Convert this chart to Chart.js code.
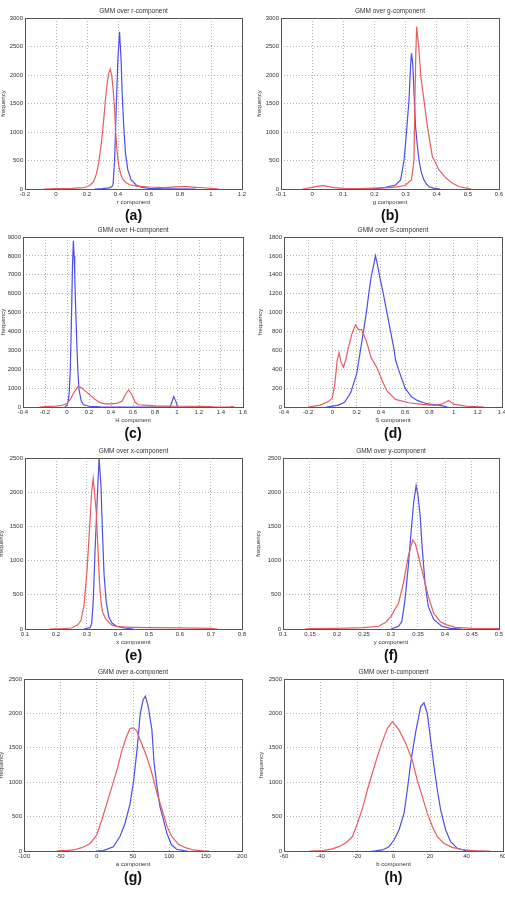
<!DOCTYPE html>
<html>
<head>
<meta charset="utf-8">
<title>GMM over colour components</title>
<script src="https://cdn.jsdelivr.net/npm/chart.js@4.4.1/dist/chart.umd.min.js"></script>
<style>
  body { margin: 0; background: #fff; }
  #figure { position: relative; width: 505px; height: 920px; overflow: hidden; background: #fff; }
  #figure canvas { position: absolute; }
</style>
</head>
<body>
<div id="figure"></div>
<script>
// tick labels
const ticks3000 = [0, 500, 1000, 1500, 2000, 2500, 3000];
const ticks9000 = [0, 1000, 2000, 3000, 4000, 5000, 6000, 7000, 8000, 9000];
const ticks1800 = [0, 200, 400, 600, 800, 1000, 1200, 1400, 1600, 1800];
const ticks2500 = [0, 500, 1000, 1500, 2000, 2500];
const rTicks = [-0.2, 0, 0.2, 0.4, 0.6, 0.8, 1, 1.2];
const gTicks = [-0.1, 0, 0.1, 0.2, 0.3, 0.4, 0.5, 0.6];
const hTicks = [-0.4, -0.2, 0, 0.2, 0.4, 0.6, 0.8, 1, 1.2, 1.4, 1.6];
const sTicks = [-0.4, -0.2, 0, 0.2, 0.4, 0.6, 0.8, 1, 1.2, 1.4];
const xTicks = [0.1, 0.2, 0.3, 0.4, 0.5, 0.6, 0.7, 0.8];
const yTicks = [0.1, 0.15, 0.2, 0.25, 0.3, 0.35, 0.4, 0.45, 0.5];
const aTicks = [-100, -50, 0, 50, 100, 150, 200];
const bTicks = [-60, -40, -20, 0, 20, 40, 60];

// curves, [component value, frequency]
const rRed = [[-0.08,0],[0,8],[0.1,10],[0.18,25],[0.2,40],[0.22,70],[0.24,120],[0.25,180],[0.26,260],[0.27,380],[0.28,550],[0.29,750],[0.3,980],[0.31,1280],[0.32,1600],[0.33,1850],[0.34,2030],[0.35,2100],[0.36,1980],[0.37,1700],[0.378,1400],[0.385,1000],[0.392,720],[0.4,500],[0.41,340],[0.42,240],[0.43,175],[0.45,115],[0.475,75],[0.52,50],[0.6,35],[0.7,25],[0.8,40],[0.85,40],[0.9,30],[0.95,22],[1.0,12],[1.05,0]];
const rBlue = [[0.25,0],[0.3,5],[0.34,20],[0.36,40],[0.368,80],[0.378,500],[0.388,1380],[0.399,2260],[0.41,2760],[0.42,2260],[0.427,1680],[0.437,1100],[0.448,630],[0.463,340],[0.485,160],[0.517,70],[0.55,30],[0.6,12],[0.7,4],[0.9,0]];

const gRed = [[-0.03,0],[0,30],[0.02,50],[0.035,60],[0.05,45],[0.07,25],[0.1,12],[0.15,8],[0.2,15],[0.25,25],[0.28,40],[0.3,70],[0.319,160],[0.327,510],[0.33,1560],[0.333,2400],[0.3356,2850],[0.343,2440],[0.349,1970],[0.359,1560],[0.37,1100],[0.386,570],[0.408,330],[0.43,190],[0.451,100],[0.473,40],[0.5,12],[0.51,0]];
const gBlue = [[0.18,0],[0.21,10],[0.235,30],[0.268,70],[0.284,160],[0.295,500],[0.303,1000],[0.311,1560],[0.316,2150],[0.319,2380],[0.323,2200],[0.327,1700],[0.332,1100],[0.338,750],[0.343,510],[0.35,300],[0.359,160],[0.368,80],[0.376,40],[0.39,15],[0.41,0]];

const hRed = [[-0.25,0],[-0.2,20],[-0.1,50],[-0.05,80],[0,180],[0.03,400],[0.06,750],[0.1,1090],[0.13,1030],[0.16,880],[0.2,680],[0.25,420],[0.3,230],[0.35,170],[0.4,170],[0.45,190],[0.5,300],[0.53,650],[0.56,900],[0.59,650],[0.62,250],[0.65,120],[0.7,100],[0.8,60],[0.9,50],[1.0,40],[1.2,30],[1.3,20],[1.35,0],[1.48,0],[1.5,30],[1.52,0]];
const hBlue = [[-0.02,0],[0,100],[0.01,300],[0.02,700],[0.03,2000],[0.04,4500],[0.05,7500],[0.058,8800],[0.065,8000],[0.07,7000],[0.08,5000],[0.09,3200],[0.1,1800],[0.11,900],[0.13,300],[0.15,120],[0.2,40],[0.3,10],[0.4,0],[0.9,0],[0.94,40],[0.97,550],[0.99,300],[1.0,80],[1.01,0]];

const sRed = [[-0.2,0],[-0.1,20],[-0.03,60],[0,100],[0.02,250],[0.04,500],[0.055,575],[0.07,480],[0.09,420],[0.11,500],[0.13,620],[0.16,770],[0.19,870],[0.215,820],[0.24,820],[0.28,700],[0.32,520],[0.37,410],[0.41,280],[0.45,170],[0.52,80],[0.63,45],[0.74,28],[0.85,18],[0.9,30],[0.96,70],[1.0,30],[1.1,10],[1.25,0]];
const sBlue = [[-0.05,0],[0,10],[0.05,20],[0.1,50],[0.15,150],[0.2,350],[0.25,750],[0.28,1000],[0.3,1200],[0.32,1380],[0.34,1500],[0.355,1600],[0.37,1520],[0.39,1380],[0.42,1200],[0.45,1000],[0.48,800],[0.51,600],[0.52,500],[0.55,380],[0.6,200],[0.65,110],[0.7,70],[0.75,45],[0.8,30],[0.9,15],[0.95,0]];

const xRed = [[0.18,0],[0.22,5],[0.25,15],[0.27,60],[0.28,120],[0.29,330],[0.3,850],[0.31,1600],[0.315,2000],[0.32,2200],[0.325,1950],[0.33,1700],[0.335,1200],[0.34,700],[0.345,400],[0.35,250],[0.36,150],[0.37,100],[0.38,60],[0.4,35],[0.45,25],[0.5,20],[0.6,15],[0.7,8],[0.72,0]];
const xBlue = [[0.29,0],[0.31,20],[0.315,80],[0.32,400],[0.326,1150],[0.333,1900],[0.339,2500],[0.345,2100],[0.35,1400],[0.355,800],[0.362,400],[0.37,180],[0.38,90],[0.395,40],[0.42,15],[0.45,0]];

const yRed = [[0.14,0],[0.15,5],[0.2,10],[0.25,20],[0.277,40],[0.289,90],[0.3,185],[0.314,380],[0.323,670],[0.332,1060],[0.34,1300],[0.345,1250],[0.351,1060],[0.36,770],[0.369,480],[0.379,230],[0.391,110],[0.403,60],[0.419,25],[0.45,10],[0.5,5]];
const yBlue = [[0.3,0],[0.314,40],[0.32,110],[0.326,430],[0.332,915],[0.337,1400],[0.342,1850],[0.3465,2095],[0.35,1950],[0.354,1650],[0.358,1160],[0.363,670],[0.369,330],[0.379,140],[0.394,40],[0.41,10],[0.43,0]];

const aRed = [[-55,0],[-50,5],[-40,8],[-32,15],[-20.5,48],[-9,110],[0,230],[7,450],[14,690],[21,935],[28,1180],[35,1470],[41,1660],[46,1780],[50,1790],[55,1750],[60,1610],[69,1370],[76,1130],[83,840],[90,600],[97,354],[103.5,208],[112.5,97],[122,48],[133,15],[147,3],[155,0]];
const aBlue = [[0,0],[9,5],[23,60],[32,210],[39,400],[46,690],[51,1030],[56,1520],[60,2000],[64,2200],[67,2250],[71,2100],[76,1760],[79,1280],[83,940],[87,650],[92,450],[96.5,260],[103,90],[110,25],[120,5],[125,0]];

const bRed = [[-46,0],[-39,5],[-33.5,30],[-30,63],[-26,120],[-22.5,210],[-19.8,400],[-17,620],[-14.3,890],[-11.6,1130],[-8.9,1370],[-6.1,1590],[-3.4,1780],[-0.6,1880],[3,1760],[6.7,1565],[10.3,1320],[13,1030],[15.8,790],[18.5,550],[21.3,355],[24,210],[27.7,110],[32.2,53],[36.8,25],[43,5],[53,0]];
const bBlue = [[-12,0],[-10,2],[-6,15],[-2.5,63],[0.3,160],[3,305],[5.8,550],[7.6,890],[9.4,1275],[12,1710],[14.9,2100],[16.7,2155],[18.5,2000],[20.4,1610],[22.2,1225],[24,890],[25.8,600],[28.6,305],[31.3,136],[35,39],[39.5,5],[45,0]];

const panels = [
  {id: "a", comp: "r", xt: rTicks, yt: ticks3000, red: rRed, blue: rBlue},
  {id: "b", comp: "g", xt: gTicks, yt: ticks3000, red: gRed, blue: gBlue},
  {id: "c", comp: "H", xt: hTicks, yt: ticks9000, red: hRed, blue: hBlue},
  {id: "d", comp: "S", xt: sTicks, yt: ticks1800, red: sRed, blue: sBlue},
  {id: "e", comp: "x", xt: xTicks, yt: ticks2500, red: xRed, blue: xBlue},
  {id: "f", comp: "y", xt: yTicks, yt: ticks2500, red: yRed, blue: yBlue},
  {id: "g", comp: "a", xt: aTicks, yt: ticks2500, red: aRed, blue: aBlue},
  {id: "h", comp: "b", xt: bTicks, yt: ticks2500, red: bRed, blue: bBlue}
];

// where each panel sits on the page
const boxes = [
  {left: 0,   top: 6,   width: 252, height: 220, yAxis: 25, yTitle: 0,    right: 10},
  {left: 252, top: 6,   width: 253, height: 220, yAxis: 29, yTitle: 3.7,  right: 6},
  {left: 0,   top: 225, width: 252, height: 219, yAxis: 23, yTitle: 0,    right: 9},
  {left: 252, top: 225, width: 253, height: 219, yAxis: 32, yTitle: 4.7,  right: 3},
  {left: 0,   top: 446, width: 252, height: 220, yAxis: 25, yTitle: -2.6, right: 10},
  {left: 252, top: 446, width: 253, height: 220, yAxis: 31, yTitle: 3.1,  right: 6},
  {left: 0,   top: 667, width: 252, height: 221, yAxis: 24, yTitle: -2.6, right: 10},
  {left: 252, top: 667, width: 253, height: 221, yAxis: 32, yTitle: 5.7,  right: 2}
];

const FONT = "'Liberation Sans', Arial, sans-serif";
const RED = "rgb(232, 92, 95)";
const BLUE = "rgb(78, 78, 232)";
const TEXT = "#333";

// MATLAB style box round the axes
const frame = {
  id: "frame",
  afterDatasetsDraw(chart) {
    const ctx = chart.ctx;
    const a = chart.chartArea;
    ctx.save();
    ctx.strokeStyle = "#555";
    ctx.lineWidth = 1;
    ctx.strokeRect(Math.round(a.left) + 0.5, Math.round(a.top) + 0.5,
      Math.round(a.right - a.left), Math.round(a.bottom - a.top));
    ctx.restore();
  }
};

function makeChart(p, box) {
  const canvas = document.createElement("canvas");
  canvas.width = box.width;
  canvas.height = box.height;
  canvas.style.left = box.left + "px";
  canvas.style.top = box.top + "px";
  document.getElementById("figure").appendChild(canvas);

  const toPoints = arr => arr.map(([x, y]) => ({x: x, y: y}));
  const line = (label, pts, color) => ({
    label: label,
    data: toPoints(pts),
    showLine: true,
    borderColor: color,
    borderWidth: 1.2,
    pointRadius: 0,
    tension: 0
  });
  const grid = {color: "#b4b4b4", lineWidth: 1, drawTicks: false};
  const border = {display: false, dash: [1, 2]};

  return new Chart(canvas, {
    type: "scatter",
    data: {
      datasets: [
        line(p.comp + " red", p.red, RED),
        line(p.comp + " blue", p.blue, BLUE)
      ]
    },
    options: {
      responsive: false,
      animation: false,
      devicePixelRatio: 1,
      events: [],
      layout: {padding: {left: 0, right: box.right, top: 0, bottom: 0}},
      plugins: {
        legend: {display: false},
        tooltip: {enabled: false},
        title: {
          display: true,
          fullSize: false,
          text: "GMM over " + p.comp + "-component",
          color: TEXT,
          font: {family: FONT, size: 6.5, weight: "normal"},
          padding: {top: 1.5, bottom: 2.7}
        },
        subtitle: {
          display: true,
          fullSize: false,
          position: "bottom",
          text: "(" + p.id + ")",
          color: "#111",
          font: {family: FONT, size: 14, weight: "bold"},
          padding: {top: 0, bottom: 1.2}
        }
      },
      scales: {
        x: {
          type: "linear",
          min: p.xt[0],
          max: p.xt[p.xt.length - 1],
          afterBuildTicks: s => { s.ticks = p.xt.map(v => ({value: v})); },
          afterFit: s => { s.height = 19; s.paddingLeft = 0; s.paddingRight = 0; },
          grid: grid,
          border: border,
          ticks: {
            autoSkip: false, maxRotation: 0, padding: 1.5, color: TEXT,
            font: {family: FONT, size: 6},
            callback: v => String(+v.toFixed(3))
          },
          title: {
            display: true, text: p.comp + " component", color: TEXT,
            font: {family: FONT, size: 6}, padding: {top: 0, bottom: 2.4}
          }
        },
        y: {
          type: "linear",
          min: 0,
          max: p.yt[p.yt.length - 1],
          afterBuildTicks: s => { s.ticks = p.yt.map(v => ({value: v})); },
          afterFit: s => { s.width = box.yAxis; },
          grid: grid,
          border: border,
          ticks: {
            autoSkip: false, padding: 2, color: TEXT,
            font: {family: FONT, size: 6},
            callback: v => String(v)
          },
          title: {
            display: true, text: "frequency", color: TEXT,
            font: {family: FONT, size: 6}, padding: {top: box.yTitle, bottom: 0}
          }
        }
      }
    },
    plugins: [frame]
  });
}

panels.forEach((p, i) => makeChart(p, boxes[i]));
</script>
</body>
</html>
